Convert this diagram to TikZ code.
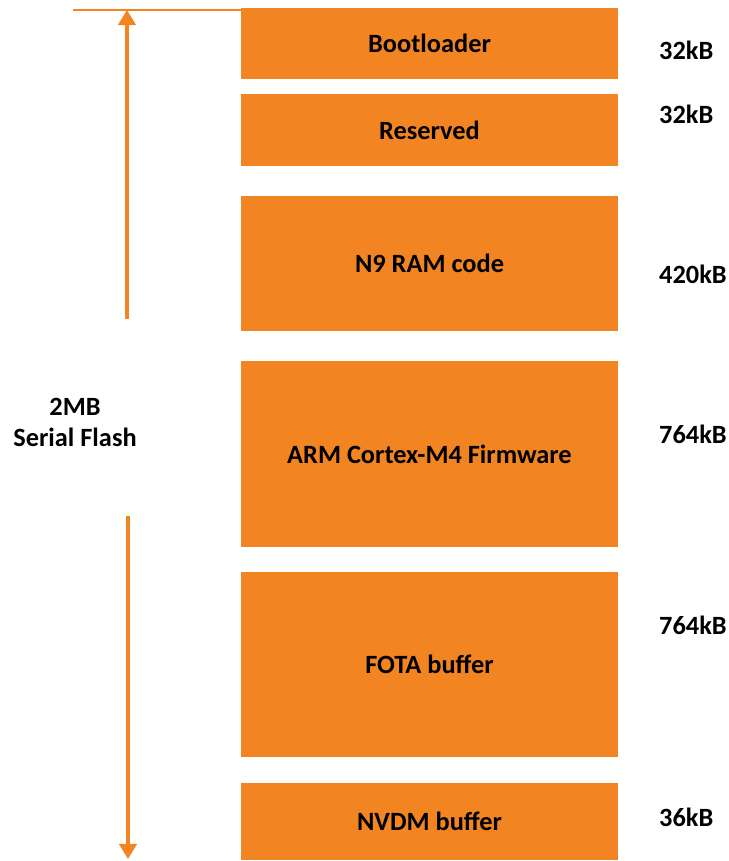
\documentclass[tikz,border=0pt]{standalone}
\usepackage{fontspec}
\setmainfont{Carlito}
\usepackage{tikz}
\usetikzlibrary{arrows.meta}
\definecolor{flashorange}{HTML}{F28521}

\begin{document}
\begin{tikzpicture}[x=0.03cm, y=-0.03cm, font=\fontsize{22.5}{26.5}\selectfont\bfseries]
    \useasboundingbox (0,0) rectangle (729,861);
    % Place nodes
    \node [rectangle, fill=flashorange, minimum width=11.31cm, minimum height=2.13cm, inner sep=0pt] (boot) at (429.5,43.5) {Bootloader};
    \node [rectangle, fill=flashorange, minimum width=11.31cm, minimum height=2.16cm, inner sep=0pt] (resv) at (429.5,130) {Reserved};
    \node [rectangle, fill=flashorange, minimum width=11.31cm, minimum height=4.05cm, inner sep=0pt] (ramcode) at (429.5,263.5) {N9 RAM code};
    \node [rectangle, fill=flashorange, minimum width=11.31cm, minimum height=5.58cm, inner sep=0pt] (firmware) at (429.5,454) {ARM Cortex-M4 Firmware};
    \node [rectangle, fill=flashorange, minimum width=11.31cm, minimum height=5.55cm, inner sep=0pt] (fota) at (429.5,664.5) {FOTA buffer};
    \node [rectangle, fill=flashorange, minimum width=11.31cm, minimum height=2.31cm, inner sep=0pt] (nvdm) at (429.5,821.5) {NVDM buffer};
    \node [anchor=west, inner sep=0pt] (sboot) at (659,50) {32kB};
    \node [anchor=west, inner sep=0pt] (sresv) at (659,114) {32kB};
    \node [anchor=west, inner sep=0pt] (sramcode) at (659,274) {420kB};
    \node [anchor=west, inner sep=0pt] (sfirmware) at (659,434) {764kB};
    \node [anchor=west, inner sep=0pt] (sfota) at (659,625) {764kB};
    \node [anchor=west, inner sep=0pt] (snvdm) at (659,817) {36kB};
    \node [align=center] (total) at (75,422) {2MB\\Serial Flash};
    \coordinate (topl) at (73,10);
    \coordinate (topr) at (241,10);
    \coordinate (upst) at (127,319);
    \coordinate (upen) at (127,10);
    \coordinate (dnst) at (128,516);
    \coordinate (dnen) at (128,859);
    \path[draw, flashorange, line width=2.2pt] (topl) -- (topr);
    \path[draw, flashorange, line width=3pt, -{Triangle[width=15pt,length=13pt]}] (upst) -- (upen);
    \path[draw, flashorange, line width=3pt, -{Triangle[width=15pt,length=13pt]}] (dnst) -- (dnen);
\end{tikzpicture}
\end{document}
